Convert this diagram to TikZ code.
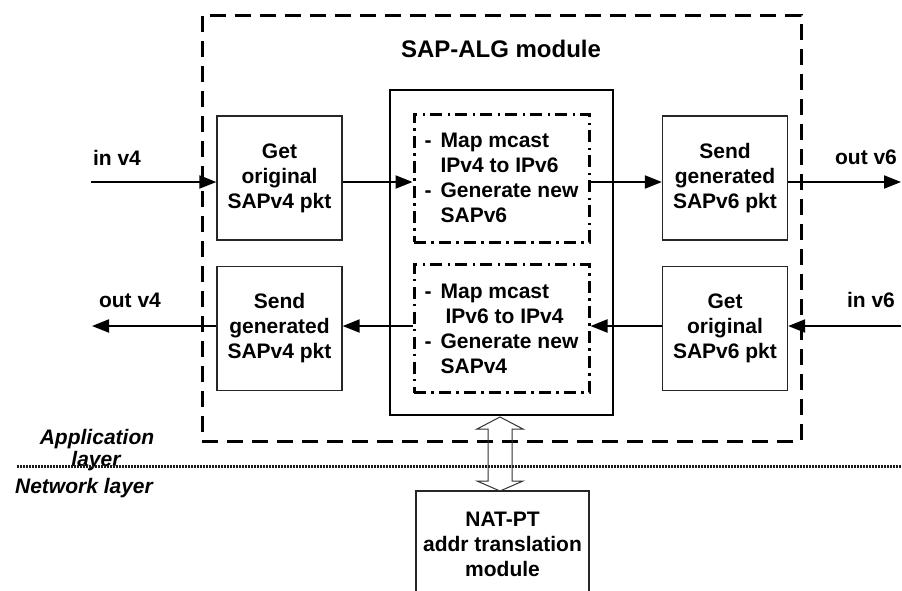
\documentclass[tikz,border=0pt]{standalone}
\usepackage{fontspec}
\setmainfont{Liberation Sans}
\usetikzlibrary{arrows.meta,calc}

% hanging dash for the bullet lines inside the mapping blocks
\newcommand\dashitem{\makebox[16pt][l]{-}}
\newcommand\indentline{\hspace*{16pt}}

\tikzset{
  lbl/.style={font=\fontsize{21pt}{25pt}\selectfont\bfseries, inner sep=0pt},
  titlelbl/.style={font=\fontsize{24pt}{28pt}\selectfont\bfseries, inner sep=0pt},
  layerlbl/.style={font=\fontsize{21pt}{25pt}\selectfont\bfseries\itshape, inner sep=0pt},
  pbox/.style={draw=black!85, line width=1.3pt, minimum width=125pt, minimum height=124pt,
    inner sep=0pt, align=center, font=\fontsize{21pt}{25pt}\selectfont\bfseries},
  mapbox/.style={draw, line width=3pt, dash pattern=on 12pt off 5pt on 2.5pt off 5.5pt,
    minimum width=175pt, minimum height=128pt, inner sep=0pt, align=left,
    font=\fontsize{21pt}{25pt}\selectfont\bfseries},
  algbox/.style={draw, line width=3pt, dash pattern=on 16pt off 9pt},
  corebox/.style={draw, line width=2pt},
  flow/.style={line width=2pt, -{Triangle[length=17pt,width=13pt]}},
  dblarrow/.style={draw=black!80, line width=1pt},
  layerline/.style={draw=black!90, line width=3pt, dash pattern=on 2pt off 1pt},
}

\begin{document}
\begin{tikzpicture}[x=1pt, y=-1pt]
  \useasboundingbox (0,0) rectangle (902,590);
  \fill[white] (0,0) rectangle (902,590);
  \clip (0,0) rectangle (902,590);

  % SAP-ALG module frame and its core
  \node[algbox, minimum width=599pt, minimum height=426pt] (alg) at (501.5,228) {};
  \node[titlelbl, anchor=base] (title) at (501,57) {SAP-ALG module};
  \node[corebox, minimum width=223pt, minimum height=325pt] (ctr) at (501.5,252.5) {};

  % processing blocks
  \node[pbox] (l1) at (279.5,178) {Get\\original\\SAPv4 pkt};
  \node[pbox] (l2) at (279.5,328.5) {Send\\generated\\SAPv4 pkt};
  \node[pbox] (r1) at (725,178) {Send\\generated\\SAPv6 pkt};
  \node[pbox] (r2) at (725,328.5) {Get\\original\\SAPv6 pkt};

  \node[mapbox] (m1) at (501.5,178)
    {\dashitem Map mcast\\\indentline IPv4 to IPv6\\\dashitem Generate new\\\indentline SAPv6};
  \node[mapbox] (m2) at (501.5,328.5)
    {\dashitem Map mcast\\\hspace*{21pt}IPv6 to IPv4\\\dashitem Generate new\\\indentline SAPv4};

  % external ends of the flows
  \coordinate (inA) at (91,182);
  \coordinate (outA) at (901,182);
  \coordinate (inB) at (901,326);
  \coordinate (outB) at (92,326);

  % v4 -> v6 direction
  \draw[flow] (inA) -- (inA -| l1.west);
  \draw[flow] (l1.east |- inA) -- (m1.west |- inA);
  \draw[flow] (m1.east |- inA) -- (r1.west |- inA);
  \draw[flow] (r1.east |- inA) -- (outA);

  % v6 -> v4 direction
  \draw[flow] (inB) -- (inB -| r2.east);
  \draw[flow] (r2.west |- inB) -- (m2.east |- inB);
  \draw[flow] (m2.west |- inB) -- (l2.east |- inB);
  \draw[flow] (l2.west |- inB) -- (outB);

  % flow labels
  \node[lbl, anchor=base] (tinA) at (117,165) {in v4};
  \node[lbl, anchor=base] (toutA) at (866,164) {out v6};
  \node[lbl, anchor=base] (toutB) at (130,307) {out v4};
  \node[lbl, anchor=base] (tinB) at (871,307) {in v6};

  % layer names, with the boundary line drawn across them
  \node[layerlbl, anchor=base] (app) at (97,444) {Application};
  \node[layerlbl, anchor=base] (appl) at (96,466) {layer};
  \node[layerlbl, anchor=base] (net) at (84,493) {Network layer};
  \coordinate (layA) at (17,466);
  \coordinate (layB) at (902,466);
  \draw[layerline] (layA) -- (layB);

  % address translation module below the boundary
  \node[pbox, minimum width=173pt, minimum height=106pt] (nat) at (502.5,544)
    {NAT-PT\\addr translation\\module};

  % two-way link between the core and the translation module
  \draw[dblarrow] ($(ctr.south)+(-1.5,1)$) -- ++(23,12) -- ++(-11,0) -- ++(0,52)
    -- ++(11,0) -- ++(-23,10) -- ++(-23,-10) -- ++(11,0) -- ++(0,-52)
    -- ++(-11,0) -- cycle;
\end{tikzpicture}
\end{document}
